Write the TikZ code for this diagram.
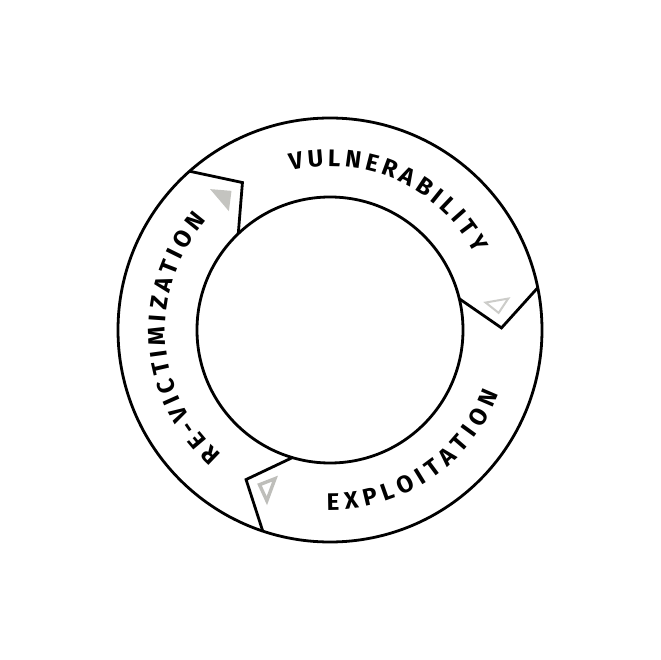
\documentclass[tikz,border=0pt]{standalone}
\usepackage{fontspec}
\newfontfamily\ringfont{Fira Sans}
\usetikzlibrary{calc}
\definecolor{markgrey}{HTML}{C4C4C0}
\definecolor{marklight}{HTML}{CDCDCA}
\definecolor{markmid}{HTML}{BEBEBA}
\newcommand{\ringsize}{\fontsize{24}{29}\selectfont}
\tikzset{
	ring/.style={line width=2.8pt, line join=miter},
	ringletter/.style={font=\ringfont\bfseries\ringsize,
			inner sep=0pt, text height=16.5pt, text depth=0pt}
}
\newcommand{\tracking}{5}
% #1 name, #2 centre angle, #3 radius, #4 1 = clockwise / -1 = anticlockwise, #5 letters
\newcommand{\ringlabel}[5]{%
	\ringfont\bfseries\ringsize
	\gdef\lensum{0}\gdef\lencount{0}%
	\foreach \ch in {#5} {
			\pgfmathsetmacro\chw{width("\ch")}
			\pgfmathsetmacro\ringtmp{\lensum+\chw}\global\let\lensum\ringtmp
			\pgfmathsetmacro\ringtmp{\lencount+1}\global\let\lencount\ringtmp
		}
	\pgfmathsetmacro\ringtmp{#2+#4*(\lensum+(\lencount-1)*\tracking)/(#3)*90/pi}\global\let\chpos\ringtmp
	\foreach \ch [count=\i] in {#5} {
			\pgfmathsetmacro\chw{width("\ch")}
			\pgfmathsetmacro\cha{\chpos-#4*\chw/(#3)*90/pi}
			\node[ringletter, rotate=\cha-#4*90] (#1-\i) at (\cha:#3) {\ch};
			\pgfmathsetmacro\ringtmp{\chpos-#4*(\chw+\tracking)/(#3)*180/pi}\global\let\chpos\ringtmp
		}%
}

\begin{document}
\begin{tikzpicture}[x=1pt,y=1pt]

	\fill[white] (-330,-330) rectangle (330,330);
	\useasboundingbox (-330,-330) rectangle (330,330);

	% Draw the two circles
	\draw[ring] (0,0) circle[radius=212pt];
	\draw[ring] (0,0) circle[radius=133pt];

	% Arrow heads between the stages
	\foreach \b in {132.5, 12.5, -107.5} {
			\draw[ring] (\b-1:212) -- (\b-11.8:171.5) -- (\b+1.1:133);
		}

	% Small triangles
	\fill[markgrey] (130.4:156) -- (125.3:170.5) -- (130.4:185) -- cycle;
	\draw[marklight, line width=2pt, line join=miter] (10:158) -- (5.8:169.5) -- (10:181) -- cycle;
	\draw[markmid, line width=3.4pt, line join=miter] (249.7:158.5) -- (245.5:170) -- (249.7:182) -- cycle;

	% Labels
	\ringlabel{vul}{65.8}{172}{1}{V,U,L,N,E,R,A,B,I,L,I,T,Y}
	\ringlabel{exp}{-55.9}{172}{-1}{E,X,P,L,O,I,T,A,T,I,O,N}
	\ringlabel{rev}{183.6}{173}{1}{R,E,-,V,I,C,T,I,M,I,Z,A,T,I,O,N}
\end{tikzpicture}
\end{document}
